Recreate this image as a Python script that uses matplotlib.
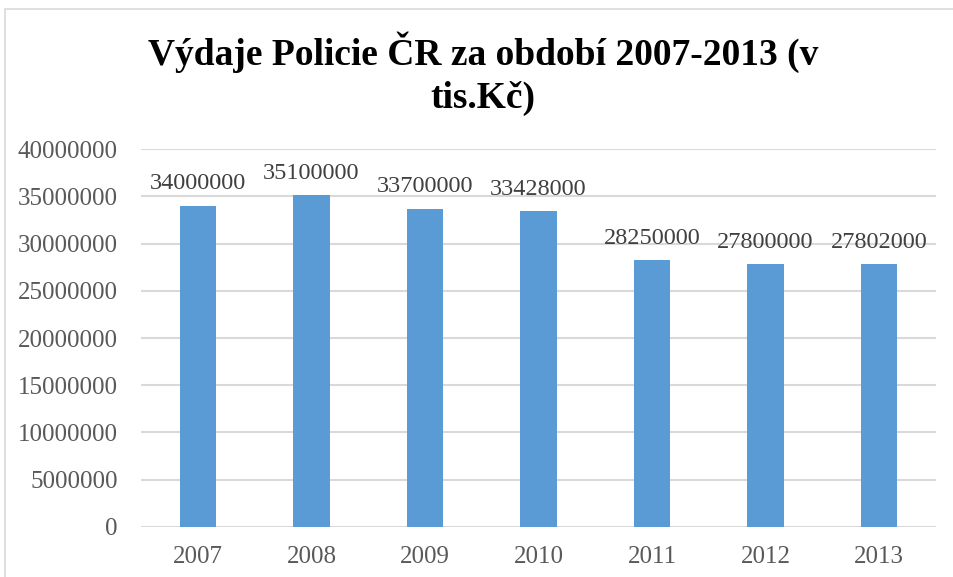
import matplotlib.pyplot as plt
from matplotlib.patches import Rectangle

years = ["2007", "2008", "2009", "2010", "2011", "2012", "2013"]
vydaje = [34000000, 35100000, 33700000, 33428000, 28250000, 27800000, 27802000]
yticks = [0, 5000000, 10000000, 15000000, 20000000, 25000000, 30000000, 35000000, 40000000]

plt.rcParams['font.family'] = ['Liberation Serif', 'DejaVu Serif']

fig = plt.figure(figsize=(9.54, 5.77), dpi=100)
ax = fig.add_axes([0.148, 0.0867, 0.833, 0.655])

# okraj grafu jako v Excelu
fig.patches.append(Rectangle((5 / 954, -0.1), 1.2, 1 - 9 / 577 + 0.1, transform=fig.transFigure,
                             fill=False, edgecolor="#d9d9d9", linewidth=1.2))

x = range(len(years))
ax.bar(x, vydaje, width=0.32, color="#5b9bd5", zorder=3)
for i, v in enumerate(vydaje):
    ax.text(i, v + 1200000, str(v), ha="center", va="bottom", fontsize=17.5, color="#404040", zorder=4)

ax.set_xlim(-0.5, len(years) - 0.5)
ax.set_ylim(0, 40000000)
ax.set_yticks(yticks)
ax.set_yticklabels([str(t) for t in yticks])
ax.set_xticks(list(x))
ax.set_xticklabels(years)
ax.tick_params(axis="both", length=0, labelsize=18, labelcolor="#595959")
ax.tick_params(axis="x", pad=14)
ax.tick_params(axis="y", pad=17)
ax.grid(axis="y", color="#d9d9d9", linewidth=1.5, zorder=0)
for s in ax.spines.values():
    s.set_visible(False)

fig.text(0.506, 0.872, "Výdaje Policie ČR za období 2007-2013 (v\ntis.Kč)", ha="center", va="center",
         fontsize=27, fontweight="bold", linespacing=1.3)

fig.savefig("out.png", dpi=100)
